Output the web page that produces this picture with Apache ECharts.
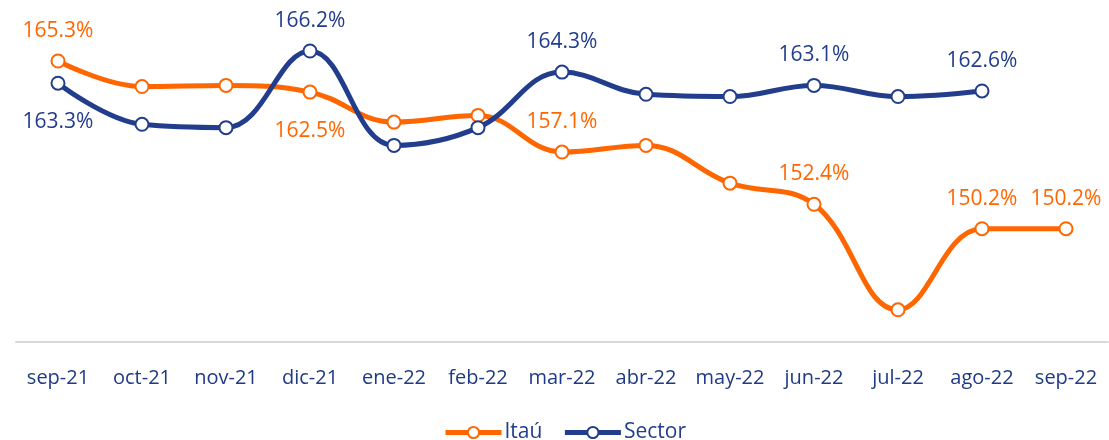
<!DOCTYPE html>
<html>
<head>
<meta charset="utf-8">
<script src="https://cdn.jsdelivr.net/npm/echarts@6/dist/echarts.min.js"></script>
<style>
  html, body { margin: 0; padding: 0; background: #fff; }
  #chart { width: 1109px; height: 440px; }
</style>
</head>
<body>
<div id="chart"></div>
<script>
var months = ['sep-21', 'oct-21', 'nov-21', 'dic-21', 'ene-22', 'feb-22', 'mar-22',
  'abr-22', 'may-22', 'jun-22', 'jul-22', 'ago-22', 'sep-22'];
var itau = [165.3, 163.0, 163.1, 162.5, 159.8, 160.4, 157.1, 157.7, 154.3, 152.4, 142.9, 150.2, 150.2];
var sector = [163.3, 159.6, 159.3, 166.2, 157.7, 159.3, 164.3, 162.3, 162.1, 163.1, 162.1, 162.6, null];

// which points carry a value label, and where
var itauLabels = { 0: 'top', 3: 'bottom', 6: 'top', 9: 'top', 11: 'top', 12: 'top' };
var sectorLabels = { 0: 'bottom', 3: 'top', 6: 'top', 9: 'top', 11: 'top' };

var orange = '#ff6600';
var blue = '#213d8c';

function buildData(values, labels, color) {
  return values.map(function (v, i) {
    var pos = labels[i];
    return {
      value: v,
      label: {
        show: pos !== undefined,
        position: pos || 'top',
        distance: pos === 'bottom' ? 21 : 12,
        color: color,
        fontSize: 21,
        fontFamily: 'Open Sans',
        formatter: function (p) { return p.value.toFixed(1) + '%'; }
      }
    };
  });
}

var chart = echarts.init(document.getElementById('chart'));
var option = {
  animation: false,
  grid: { left: 16, right: 1, top: 31, bottom: 98 },
  legend: {
    top: 417,
    left: 438,
    itemWidth: 56,
    itemHeight: 14,
    itemGap: 20,
    lineStyle: { width: 5 },
    textStyle: { color: blue, fontSize: 21, fontFamily: 'Open Sans', padding: [0, 0, 0, -2] },
    data: ['Itaú', 'Sector']
  },
  xAxis: {
    type: 'category',
    data: months,
    boundaryGap: true,
    axisLine: { lineStyle: { color: '#d9d9d9', width: 2 } },
    axisTick: { show: false },
    axisLabel: { color: '#1f3a86', fontSize: 20, fontFamily: 'Open Sans', margin: 26, interval: 0 }
  },
  yAxis: {
    type: 'value',
    min: 140,
    max: 168,
    show: false,
    splitLine: { show: false }
  },
  series: [
    {
      name: 'Itaú',
      type: 'line',
      smooth: 0.4,
      data: buildData(itau, itauLabels, orange),
      symbol: 'circle',
      symbolSize: 13,
      lineStyle: { color: orange, width: 5 },
      itemStyle: { color: '#fff', borderColor: orange, borderWidth: 2 }
    },
    {
      name: 'Sector',
      type: 'line',
      smooth: 0.4,
      data: buildData(sector, sectorLabels, blue),
      symbol: 'circle',
      symbolSize: 13,
      lineStyle: { color: blue, width: 5 },
      itemStyle: { color: '#fff', borderColor: blue, borderWidth: 2 }
    }
  ]
};
chart.setOption(option);
</script>
</body>
</html>
